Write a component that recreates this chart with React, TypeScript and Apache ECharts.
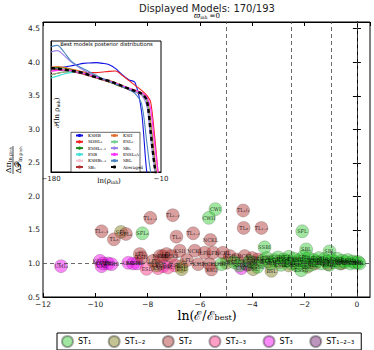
import React, { useEffect, useRef } from "react";
import * as echarts from "echarts";

// ---------- Main scatter data: [ln(E/Ebest), ratio, model label] ----------
const st1Points: [number, number, string][] = [
  [-8.2, 1.45, "SFL₃"], [-5.41, 1.81, "CWI"], [-5.66, 1.68, "CWII"], [-3.53, 1.24, "SSBI"],
  [-2.09, 1.48, "SFL"], [-1.94, 1.21, "SBL"], [-1.05, 1.18, "SBL"],
  [-5.18, 0.99, "SBL"], [-4.7, 1.02, "ESBL"], [-4.5, 0.97, "SSBI"], [-4.1, 1.03, "KSBL"],
  [-3.8, 0.95, "ESSL"], [-3.6, 1.04, "SFL"], [-3.45, 1.08, "EBL"], [-3.3, 1.0, "SBL"],
  [-3.15, 1.05, "ESBL"], [-3.02, 1.09, "SSBI"], [-2.9, 0.98, "KSBL"], [-2.8, 1.06, "ESSL"],
  [-2.7, 1.04, "SFL"], [-2.6, 1.1, "EBL"], [-2.5, 1.0, "SBL"], [-2.4, 1.07, "ESBL"],
  [-2.3, 0.97, "SSBI"], [-2.2, 1.05, "KSBL"], [-2.13, 0.9, "ESSL"], [-2.05, 1.1, "SFL"],
  [-1.95, 1.02, "EBL"], [-1.85, 1.08, "SBL"], [-1.75, 0.98, "ESBL"], [-1.65, 1.05, "SSBI"],
  [-1.55, 1.03, "KSBL"], [-1.45, 1.08, "ESSL"], [-1.35, 1.0, "SFL"], [-1.25, 1.06, "EBL"],
  [-1.15, 1.03, "SBL"], [-1.05, 0.98, "ESBL"], [-0.95, 1.05, "SSBI"], [-0.85, 1.02, "KSBL"],
  [-0.75, 1.07, "ESSL"], [-0.65, 1.0, "SFL"], [-0.55, 1.04, "EBL"], [-0.45, 1.02, "SBL"],
  [-0.35, 1.05, "ESBL"], [-0.25, 1.0, "SSBI"], [-0.15, 1.03, "KSBL"], [-0.05, 1.01, "ESSL"],
  [0.05, 1.02, "SFL"], [0.1, 1.0, "EBL"],
];
const st12Points: [number, number, string][] = [
  [-9.02, 1.47, "SFL"], [-7.66, 0.97, "ESL"], [-6.71, 0.96, "BSL"], [-6.7, 0.915, "ESL"],
  [-4.99, 1.01, "BSL"], [-3.97, 0.915, "ESL"], [-3.27, 0.89, "BSL"], [-2.6, 0.97, "ESL"],
  [-1.9, 0.95, "BSL"],
];
const st2Points: [number, number, string][] = [
  [-9.76, 1.48, "TL₁₋₂"], [-9.29, 1.36, "TL₃"], [-8.83, 1.44, "SFL₂"], [-7.9, 1.68, "TL₁₋₂"],
  [-7.04, 1.72, "TL₁₋₂"], [-6.9, 1.4, "TL₃"], [-6.26, 1.45, "TL₁₋₂"], [-5.6, 1.35, "NCKL"],
  [-4.35, 1.79, "TL₁/₃"], [-4.33, 1.53, "TL₈"], [-3.65, 1.53, "TL₁₋₂"],
  [-8.3, 1.14, "LFL"], [-8.23, 1.09, "KSII"], [-7.79, 1.04, "LFL"], [-7.53, 1.11, "NCKL"],
  [-7.41, 1.11, "KSII"], [-7.28, 1.14, "LFL"], [-7.09, 1.11, "NCKL"], [-6.77, 1.19, "KSII"],
  [-6.5, 1.05, "LFL"], [-6.2, 1.19, "NCKL"], [-6.07, 0.99, "KSII"], [-5.82, 1.16, "LFL"],
  [-5.63, 0.99, "NCKL"], [-5.56, 0.91, "KSII"], [-5.5, 1.16, "LFL"], [-5.12, 1.16, "NCKL"],
  [-4.86, 1.11, "KSII"], [-4.6, 1.06, "LFL"], [-4.29, 1.11, "NCKL"], [-4.0, 1.08, "KSII"],
  [-3.78, 1.06, "LFL"], [-3.4, 1.03, "NCKL"], [-2.95, 1.02, "KSII"], [-2.35, 1.01, "LFL"],
  [-1.6, 1.0, "NCKL"], [-1.1, 0.99, "KSII"], [-0.6, 1.0, "LFL"],
];
const st23Points: [number, number, string][] = [
  [-8.04, 0.92, "ESL"], [-7.6, 0.93, "KSL"], [-7.22, 0.94, "ESL"], [-6.95, 0.97, "KSL"],
];
const st3Points: [number, number, string][] = [
  [-11.31, 0.96, "UMI₃"], [-9.82, 1.04, "KSHB"], [-9.76, 0.96, "UMI"], [-9.7, 1.0, "KSHB"],
  [-9.51, 1.0, "UMI"], [-9.38, 0.99, "KSHB"], [-8.74, 1.01, "UMI"], [-8.55, 1.0, "KSHB"],
  [-8.4, 1.0, "UMI"], [-7.41, 0.96, "KSHB"], [-4.42, 0.93, "UMI"],
];
const st123Points: [number, number, string][] = [
  [-3.97, 1.01, "SBI"], [-4.2, 0.98, "SBI"],
];

const groupNames = ["ST₁", "ST₁₋₂", "ST₂", "ST₂₋₃", "ST₃", "ST₁₋₂₋₃"];
const groupColors = [
  "rgba(40,200,40,0.55)",
  "rgba(130,130,30,0.6)",
  "rgba(180,60,60,0.62)",
  "rgba(255,60,140,0.62)",
  "rgba(240,20,240,0.62)",
  "rgba(120,40,120,0.62)",
];
const groupData = [st1Points, st12Points, st2Points, st23Points, st3Points, st123Points];
const drawOrder = [4, 3, 5, 1, 2, 0];

const guideX = [-5, -2.5, -1, 0];
const guideY = [1];

// ---------- Inset: posterior distributions (values in 1e-3) ----------
const lnRho = [-180, -170, -160, -150, -140, -130, -120, -110, -100, -90, -80, -70, -60, -50, -40, -32, -26, -20, -14, -10];
const curveNames = ["KSHB", "SOHL₁", "ESHL₁₋₂", "ESB", "KSHB₁₋₂", "SBₓ", "KSII", "ESL₁", "SBₙ", "ESSL₁/₂", "SBL", "Averaged"];
const curveColors = ["#1010e0", "#f02020", "#1a8a1a", "#40e0d8", "#f4c0cc", "#b03030", "#e07030", "#70d090", "#9a80e8", "#ff30ff", "#4a86c0", "#000000"];
const kshb = [6.78, 6.82, 6.85, 6.88, 6.92, 6.96, 6.97, 6.98, 6.96, 6.92, 6.8, 6.62, 6.47, 6.38, 5.5, 3.7, 3.2, 3.0, 3.0, 3.0];
const sohl = [6.62, 6.66, 6.7, 6.72, 6.72, 6.7, 6.68, 6.68, 6.7, 6.72, 6.73, 6.6, 6.45, 6.3, 6.15, 6.0, 5.8, 4.8, 3.6, 3.0];
const eshl = [6.8, 6.83, 6.82, 6.78, 6.73, 6.68, 6.62, 6.55, 6.48, 6.4, 6.32, 6.25, 6.18, 6.12, 6.05, 5.9, 5.3, 4.2, 3.3, 3.0];
const esb = [6.52, 6.58, 6.64, 6.68, 6.7, 6.68, 6.63, 6.57, 6.5, 6.43, 6.36, 6.28, 6.2, 6.12, 6.04, 5.88, 5.2, 4.1, 3.3, 3.0];
const kshb12 = [6.7, 6.74, 6.75, 6.73, 6.7, 6.65, 6.6, 6.54, 6.48, 6.42, 6.35, 6.28, 6.2, 6.13, 6.05, 5.9, 5.4, 4.3, 3.4, 3.0];
const sbx = [6.75, 6.78, 6.76, 6.72, 6.68, 6.63, 6.58, 6.52, 6.46, 6.4, 6.33, 6.25, 6.17, 6.1, 6.02, 5.85, 5.1, 4.0, 3.2, 3.0];
const ksii = [6.85, 6.86, 6.84, 6.8, 6.75, 6.7, 6.64, 6.57, 6.5, 6.45, 6.38, 6.3, 6.22, 6.16, 6.08, 5.92, 5.2, 4.1, 3.3, 3.0];
const esl = [6.6, 6.66, 6.7, 6.72, 6.7, 6.66, 6.61, 6.55, 6.49, 6.42, 6.35, 6.27, 6.19, 6.11, 6.03, 5.85, 5.0, 3.9, 3.2, 3.0];
const sbn = [7.3, 7.34, 7.2, 7.02, 6.88, 6.76, 6.65, 6.56, 6.49, 6.42, 6.35, 6.27, 6.19, 6.1, 6.0, 5.7, 4.7, 3.8, 3.2, 3.0];
const essl = [6.72, 6.75, 6.76, 6.74, 6.7, 6.66, 6.61, 6.55, 6.49, 6.43, 6.36, 6.29, 6.22, 6.15, 6.08, 5.95, 5.6, 4.6, 3.6, 3.0];
const sbl = [7.46, 7.5, 7.3, 7.05, 6.9, 6.8, 6.7, 6.6, 6.5, 6.42, 6.34, 6.26, 6.18, 6.05, 5.75, 4.6, 3.7, 3.3, 3.0, 3.0];
const averaged = [6.82, 6.8, 6.77, 6.74, 6.71, 6.67, 6.6, 6.54, 6.48, 6.43, 6.36, 6.28, 6.2, 6.13, 6.05, 5.85, 4.9, 3.9, 3.2, 3.0];
const curveValues = [kshb, sohl, eshl, esb, kshb12, sbx, ksii, esl, sbn, essl, sbl, averaged];

const minus = (v: number) => (v < 0 ? "−" + String(Math.abs(v)) : String(v));

export default function App() {
  const ref = useRef<HTMLDivElement>(null);
  useEffect(() => {
    const chart = echarts.init(ref.current!, null, { renderer: "svg" });

    const scatterSeries = drawOrder.map((gi) => ({
      type: "scatter",
      name: groupNames[gi],
      xAxisIndex: 0,
      yAxisIndex: 0,
      symbolSize: 13,
      data: groupData[gi].map(([x, y, l]) => ({ value: [x, y], name: l })),
      itemStyle: { color: groupColors[gi], borderColor: "rgba(0,0,0,0.4)", borderWidth: 0.5 },
      label: {
        show: true,
        position: "inside",
        formatter: "{b}",
        fontSize: 5,
        fontFamily: "DejaVu Serif",
        color: "#000",
      },
      emphasis: { disabled: true },
      z: 3,
    }));

    const lineSeries = curveNames.map((n, i) => ({
      type: "line",
      name: n,
      xAxisIndex: 2,
      yAxisIndex: 2,
      data: lnRho.map((x, k) => [x, curveValues[i][k]]),
      symbol: "none",
      smooth: 0.3,
      lineStyle:
        n === "Averaged"
          ? { color: "#000", width: 2.4, type: [4, 3] }
          : { color: curveColors[i], width: 1.1 },
      itemStyle: { color: curveColors[i] },
      emphasis: { disabled: true },
      z: n === "Averaged" ? 6 : 5,
    }));

    const guideSeries = {
      type: "line",
      name: "guides",
      xAxisIndex: 0,
      yAxisIndex: 0,
      data: [],
      silent: true,
      z: 1,
      markLine: {
        silent: true,
        symbol: "none",
        label: { show: false },
        lineStyle: { color: "#444", width: 0.8, type: [4, 3] },
        data: [...guideX.map((v) => ({ xAxis: v })), ...guideY.map((v) => ({ yAxis: v }))],
      },
    };

    const axisCommon = {
      axisLine: { show: true, lineStyle: { color: "#000", width: 1 } },
      splitLine: { show: false },
    };

    const sub = { fontSize: 4.5, fontFamily: "DejaVu Serif", fill: "#000", verticalAlign: "bottom" };

    chart.setOption({
      animation: false,
      backgroundColor: "#fff",
      grid: [
        { left: 43, right: 4, top: 22, bottom: 53, show: true, borderColor: "#000", borderWidth: 1, backgroundColor: "#fff" },
        { left: 51, top: 41, width: 110, height: 131, show: true, borderColor: "#000", borderWidth: 1, backgroundColor: "#fff", z: 4 },
      ],
      xAxis: [
        {
          type: "value", gridIndex: 0, min: -12, max: 0.5, interval: 2, position: "bottom", ...axisCommon,
          axisTick: { show: true, inside: true, length: 4, lineStyle: { color: "#000" } },
          axisLabel: { formatter: minus, fontSize: 7.5, margin: 3, color: "#222", fontFamily: "DejaVu Sans", showMaxLabel: false },
        },
        {
          type: "value", gridIndex: 0, min: -12, max: 0.5, interval: 2, position: "top", ...axisCommon,
          axisTick: { show: true, inside: true, length: 4, lineStyle: { color: "#000" } },
          axisLabel: { show: false },
        },
        {
          type: "value", gridIndex: 1, min: -180, max: -10, position: "bottom", ...axisCommon, z: 4,
          axisTick: { show: false },
          axisLabel: { customValues: [-180, -10], formatter: minus, fontSize: 7, margin: 3, color: "#222", fontFamily: "DejaVu Sans" },
        },
      ],
      yAxis: [
        {
          type: "value", gridIndex: 0, min: 0.5, max: 4.6, interval: 0.5, position: "left", ...axisCommon,
          axisTick: { show: true, inside: true, length: 4, lineStyle: { color: "#000" } },
          axisLabel: { formatter: (v: number) => v.toFixed(1), fontSize: 7.5, margin: 3, color: "#222", fontFamily: "DejaVu Sans", showMaxLabel: false },
        },
        {
          type: "value", gridIndex: 0, min: 0.5, max: 4.6, interval: 0.5, position: "right", ...axisCommon,
          axisTick: { show: true, inside: true, length: 4, lineStyle: { color: "#000" } },
          axisLabel: { show: false },
        },
        {
          type: "value", gridIndex: 1, min: 3.7, max: 7.63, position: "left", ...axisCommon, z: 4,
          axisTick: { show: false },
          axisLabel: { show: false },
        },
      ],
      legend: [
        {
          data: groupNames,
          left: 57,
          top: 333,
          orient: "horizontal",
          icon: "circle",
          itemWidth: 11,
          itemHeight: 11,
          itemGap: 16.5,
          padding: [2, 7, 2, 4],
          borderColor: "#000",
          borderWidth: 1,
          backgroundColor: "#fff",
          selectedMode: false,
          textStyle: { fontSize: 8, fontFamily: "DejaVu Sans", color: "#000" },
        },
        {
          data: curveNames.slice(0, 6),
          left: 75,
          top: 133,
          orient: "vertical",
          itemWidth: 7,
          itemHeight: 4,
          itemGap: 1.3,
          padding: 0,
          selectedMode: false,
          z: 8,
          textStyle: { fontSize: 4.2, lineHeight: 5, fontFamily: "DejaVu Serif", color: "#000" },
        },
        {
          data: curveNames.slice(6),
          left: 110,
          top: 133,
          orient: "vertical",
          itemWidth: 7,
          itemHeight: 4,
          itemGap: 1.3,
          padding: 0,
          selectedMode: false,
          z: 8,
          textStyle: { fontSize: 4.2, lineHeight: 5, fontFamily: "DejaVu Serif", color: "#000" },
        },
      ],
      graphic: [
        {
          type: "text", x: 207, y: 8, z: 10,
          style: { text: "Displayed Models: 170/193", fontSize: 10, fontFamily: "DejaVu Sans", fill: "#222", align: "center", verticalAlign: "middle" },
        },
        {
          type: "text", x: 207, y: 15.5, z: 10,
          style: {
            text: "{w|ϖ}{s|inh}{n| =0}", align: "center", verticalAlign: "middle",
            rich: {
              w: { fontSize: 7.5, fontFamily: "DejaVu Serif", fontStyle: "italic", fill: "#000" },
              s: { ...sub },
              n: { fontSize: 7, fontFamily: "DejaVu Serif", fill: "#000" },
            },
          },
        },
        {
          type: "text", x: 207, y: 315, z: 10,
          style: {
            text: "{a|ln(ℰ/ℰ}{s|best}{a|)}", align: "center", verticalAlign: "middle",
            rich: {
              a: { fontSize: 12.5, fontFamily: "DejaVu Serif", fill: "#000" },
              s: { fontSize: 8, fontFamily: "DejaVu Serif", fill: "#000", verticalAlign: "bottom" },
            },
          },
        },
        {
          type: "group", x: 13, y: 160, rotation: Math.PI / 2, z: 10,
          children: [
            {
              type: "text", x: 0, y: -1,
              style: {
                text: "{a|Δπ}{s|ln ρ}{t|inh}", align: "center", verticalAlign: "bottom",
                rich: {
                  a: { fontSize: 8, fontFamily: "DejaVu Serif", fill: "#000" },
                  s: { fontSize: 5, fontFamily: "DejaVu Serif", fill: "#000", verticalAlign: "bottom" },
                  t: { fontSize: 3.8, fontFamily: "DejaVu Serif", fill: "#000", verticalAlign: "bottom" },
                },
              },
            },
            { type: "line", shape: { x1: -14, y1: 0, x2: 14, y2: 0 }, style: { stroke: "#000", lineWidth: 0.7 } },
            {
              type: "text", x: 0, y: 1,
              style: {
                text: "{a|Δ𝒫}{s|ln ρ}{t|inh}", align: "center", verticalAlign: "top",
                rich: {
                  a: { fontSize: 8, fontFamily: "DejaVu Serif", fill: "#000" },
                  s: { fontSize: 5, fontFamily: "DejaVu Serif", fill: "#000", verticalAlign: "bottom" },
                  t: { fontSize: 3.8, fontFamily: "DejaVu Serif", fill: "#000", verticalAlign: "bottom" },
                },
              },
            },
          ],
        },
        {
          type: "text", x: 106.5, y: 44, z: 10,
          style: { text: "Best models posterior distributions", fontSize: 5.3, fontFamily: "DejaVu Sans", fill: "#000", align: "center", verticalAlign: "middle" },
        },
        {
          type: "text", x: 109, y: 181, z: 10,
          style: {
            text: "{a|ln(ρ}{s|inh}{a|)}", align: "center", verticalAlign: "middle",
            rich: {
              a: { fontSize: 7, fontFamily: "DejaVu Serif", fill: "#000" },
              s: { ...sub },
            },
          },
        },
        {
          type: "text", x: 57, y: 113, rotation: Math.PI / 2, z: 10,
          style: {
            text: "{a|𝒫(ln ρ}{s|inh}{a|)}", align: "center", verticalAlign: "middle",
            rich: {
              a: { fontSize: 7, fontFamily: "DejaVu Serif", fill: "#000" },
              s: { ...sub },
            },
          },
        },
        {
          type: "rect", z: 7,
          shape: { x: 71, y: 132.3, width: 69, height: 39.7 },
          style: { fill: "rgba(255,255,255,0.9)", stroke: "#000", lineWidth: 0.6 },
        },
      ],
      series: [guideSeries, ...scatterSeries, ...lineSeries],
    });
    return () => chart.dispose();
  }, []);
  return <div ref={ref} style={{ position: "absolute", left: 0, top: 0, width: 374, height: 350 }} />;
}
